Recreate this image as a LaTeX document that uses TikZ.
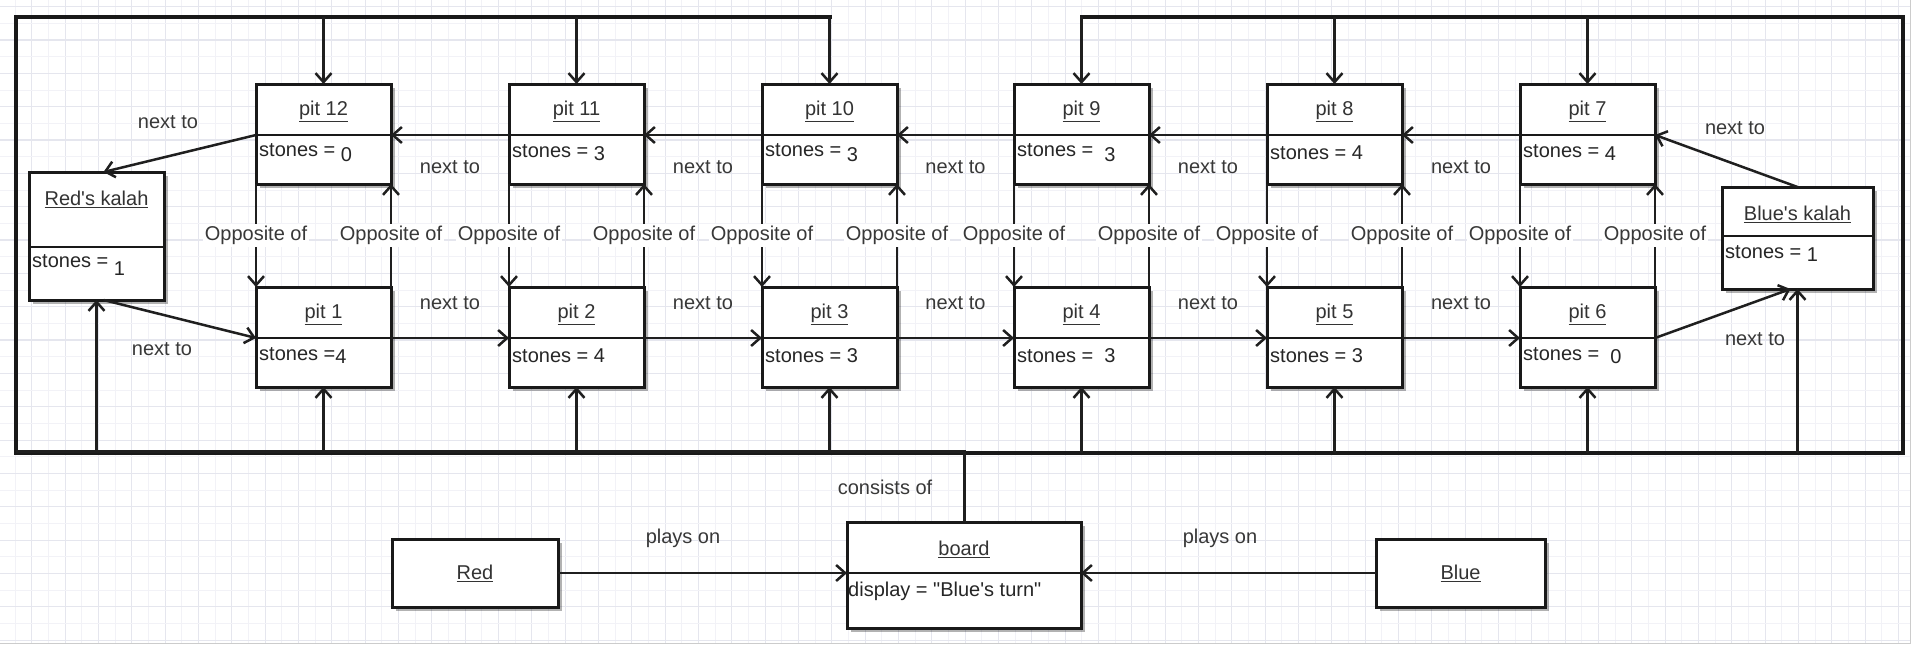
\documentclass[tikz,border=0pt]{standalone}
\usepackage{fontspec}
\setmainfont{Liberation Sans}
\usetikzlibrary{arrows.meta,shadows,calc}

\tikzset{
 box/.style={draw=black!90, line width=3pt, fill=white, rectangle, inner sep=0pt, outer sep=0pt,
   drop shadow={shadow xshift=4pt,shadow yshift=-4pt,fill=black,opacity=0.3}},
 divline/.style={draw=black!90, line width=2.5pt},
 conn/.style={draw=black!88, line width=2.5pt},
 arr/.style={conn, -{Straight Barb[length=9pt,width=16pt,line width=2.5pt]}},
 frameline/.style={draw=black!90, line width=4pt, line cap=rect},
 lbl/.style={text=black!78, inner sep=1pt},
 opp/.style={text=black!78, fill=white, inner sep=2pt},
 ttl/.style={inner sep=0pt, text=black!80},
 att/.style={inner sep=0pt, anchor=west, text=black!85},
 gridmajor/.style={draw={rgb,255:red,229;green,230;blue,238}, line width=1.1pt},
 gridminor/.style={draw={rgb,255:red,242;green,242;blue,247}, line width=0.9pt},
}

\newcommand\dn[2]{\raisebox{-#1pt}{#2}}

\newcommand\objbox[8]{%
 \node[box, minimum width=#4pt, minimum height=#6pt, anchor=north west] (#1) at (#2,#3) {};
 \coordinate (#1-dl) at ([yshift=-#5pt]#1.north west);
 \coordinate (#1-dr) at ([yshift=-#5pt]#1.north east);
 \draw[divline] (#1-dl) -- (#1-dr);
 \node[ttl] (#1-t) at ([yshift=-27pt]#1.north) {\underline{#7}};
 \node[att] (#1-a) at ([xshift=3pt,yshift=-#5pt-18pt]#1.north west) {#8};
}

\begin{document}
\begin{tikzpicture}[x=1pt,y=-1pt,font=\fontsize{20}{24}\selectfont]
\useasboundingbox (0,0) rectangle (1913,646);
\fill[white] (0,0) rectangle (1913,646);
% grid
\foreach \i in {0,...,115} {
  \pgfmathtruncatemacro\ev{mod(\i,2)}
  \ifnum\ev=0 \draw[gridmajor] ({\i*16.667-1.6},0) -- ++(0,643);
  \else \draw[gridminor] ({\i*16.667-1.6},0) -- ++(0,643); \fi
}
\foreach \j in {0,...,38} {
  \pgfmathtruncatemacro\ev{mod(\j,2)}
  \ifnum\ev=0 \draw[gridmajor] (0,{\j*16.667+6.7}) -- ++(1910,0);
  \else \draw[gridminor] (0,{\j*16.667+6.7}) -- ++(1910,0); \fi
}
\draw[draw=black!20, line width=1pt] (0,643) -- (1910,643) -- (1910,0);

% frame coordinates
\coordinate (TL) at (16,17);
\coordinate (TR) at (1903,17);
\coordinate (BL) at (16,453);
\coordinate (BR) at (1903,453);

% top row pits
\objbox{p12}{256}{84}{135}{51}{100}{pit 12}{stones = \dn{5}{0}}
\objbox{p11}{509}{84}{135}{51}{100}{pit 11}{stones = \dn{3}{3}}
\objbox{p10}{762}{84}{135}{51}{100}{pit 10}{stones = \dn{5}{3}}
\objbox{p9}{1014}{84}{135}{51}{100}{pit 9}{stones =\ \ \dn{5}{3}}
\objbox{p8}{1267}{84}{135}{51}{100}{pit 8}{stones = 4}
\objbox{p7}{1520}{84}{135}{51}{100}{pit 7}{stones = \dn{3}{4}}
% bottom row pits
\objbox{p1}{256}{287}{135}{51}{100}{pit 1}{stones =\dn{3}{4}}
\objbox{p2}{509}{287}{135}{51}{100}{pit 2}{stones = 4}
\objbox{p3}{762}{287}{135}{51}{100}{pit 3}{stones = 3}
\objbox{p4}{1014}{287}{135}{51}{100}{pit 4}{stones =\ \ 3}
\objbox{p5}{1267}{287}{135}{51}{100}{pit 5}{stones = 3}
\objbox{p6}{1520}{287}{135}{51}{100}{pit 6}{stones =\ \ \dn{3}{0}}
% kalahs
\objbox{rk}{29}{172}{135}{75}{128}{Red\textquotesingle s kalah}{stones = \dn{8}{1}}
\objbox{bk}{1722}{187}{151}{49}{102}{Blue\textquotesingle s kalah}{stones = \dn{3}{1}}
% board and players
\objbox{board}{847}{522}{234}{51}{106}{board}{\hspace{-2pt}display = \textquotedbl Blue\textquotesingle s turn\textquotedbl}
\node[box, minimum width=166pt, minimum height=68pt, anchor=north west, text=black!80] (red) at (392,539) {\underline{Red}};
\node[box, minimum width=169pt, minimum height=68pt, anchor=north west, text=black!80] (blue) at (1376,539) {\underline{Blue}};

% composition frame
\draw[frameline] (BL) -- (TL) -- (p10.north |- TL);
\draw[frameline] (BR) -- (TR) -- (p9.north |- TR);
\draw[frameline] (BL) -- (BR);
\draw[conn, line width=3pt] (board.north) -- ([yshift=2pt]board.north |- BL) -- ([yshift=2pt]BL);
\node[lbl] (lcons) at (885,487) {consists of};

\foreach \p in {p12,p11,p10,p9,p8,p7} {
  \draw[arr] (\p.north |- TL) -- (\p.north);
}
\foreach \p in {p1,p2,p3,p4,p5,p6} {
  \draw[arr] (\p.south |- BL) -- (\p.south);
}
\draw[arr] (rk.south |- BL) -- (rk.south);
\draw[arr] (bk.south |- BL) -- (bk.south);

% next-to chains
\draw[arr] (p7-dl) -- node[lbl, yshift=-32pt] (n87) {next to} (p8-dr);
\draw[arr] (p8-dl) -- node[lbl, yshift=-32pt] (n98) {next to} (p9-dr);
\draw[arr] (p9-dl) -- node[lbl, yshift=-32pt] (n109) {next to} (p10-dr);
\draw[arr] (p10-dl) -- node[lbl, yshift=-32pt] (n1110) {next to} (p11-dr);
\draw[arr] (p11-dl) -- node[lbl, yshift=-32pt] (n1211) {next to} (p12-dr);
\draw[arr] (p1-dr) -- node[lbl, yshift=35pt] (n12) {next to} (p2-dl);
\draw[arr] (p2-dr) -- node[lbl, yshift=35pt] (n23) {next to} (p3-dl);
\draw[arr] (p3-dr) -- node[lbl, yshift=35pt] (n34) {next to} (p4-dl);
\draw[arr] (p4-dr) -- node[lbl, yshift=35pt] (n45) {next to} (p5-dl);
\draw[arr] (p5-dr) -- node[lbl, yshift=35pt] (n56) {next to} (p6-dl);

% kalah links
\draw[arr] (p12-dl) -- ([xshift=7pt]rk.north);
\draw[arr] ([xshift=7pt]rk.south) -- (p1-dl);
\draw[arr] (bk.north) -- (p7-dr);
\draw[arr] (p6-dr) -- ([xshift=-7pt]bk.south);
\node[lbl] (nk1) at (168,122) {next to};
\node[lbl] (nk2) at (162,349) {next to};
\node[lbl] (nk3) at (1735,128) {next to};
\node[lbl] (nk4) at (1755,339) {next to};

% opposite links
\foreach \t/\b in {p12/p1,p11/p2,p10/p3,p9/p4,p8/p5,p7/p6} {
  \draw[arr] (\t.south west) -- node[opp] {Opposite of} (\b.north west);
  \draw[arr] (\b.north east) -- node[opp] {Opposite of} (\t.south east);
}

% players
\draw[arr] (red.east) -- (red.east -| board.west);
\draw[arr] (blue.west) -- (blue.west -| board.east);
\node[lbl] (lpr) at (683,538) {plays on};
\node[lbl] (lpb) at (1220,538) {plays on};
\end{tikzpicture}
\end{document}
